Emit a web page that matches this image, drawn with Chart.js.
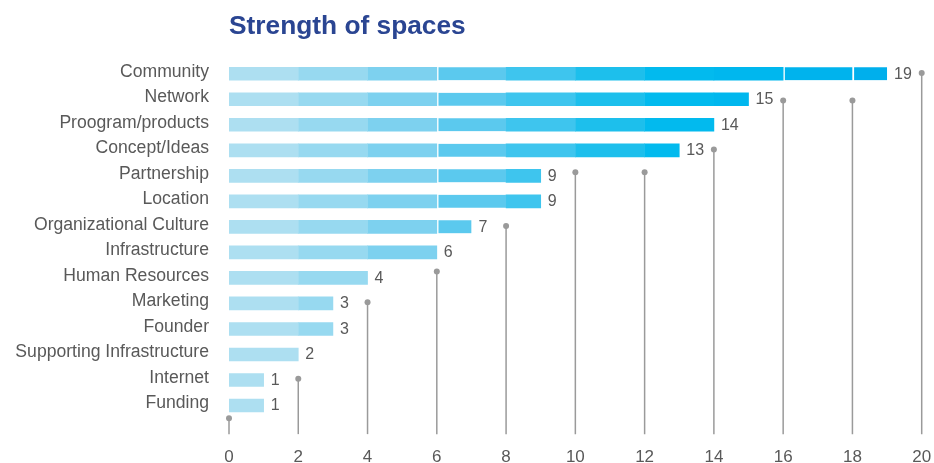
<!DOCTYPE html>
<html>
<head>
<meta charset="utf-8">
<script src="https://cdn.jsdelivr.net/npm/chart.js@4"></script>
<style>
  html, body { margin: 0; padding: 0; background: #fff; }
</style>
</head>
<body>
<canvas id="c" width="934" height="463"></canvas>
<script>
// Reasons given for the strength of a space, with number of mentions
const categories = [
  'Community', 'Network', 'Proogram/products', 'Concept/Ideas', 'Partnership',
  'Location', 'Organizational Culture', 'Infrastructure', 'Human Resources',
  'Marketing', 'Founder', 'Supporting Infrastructure', 'Internet', 'Funding'
];
const counts = [19, 15, 14, 13, 9, 9, 7, 6, 4, 3, 3, 2, 1, 1];

// x-axis ticks, and how far up (in category positions) each tick's stem reaches
const axisTicks = [0, 2, 4, 6, 8, 10, 12, 14, 16, 18, 20];
const stemTops = [13.5, 11.95, 8.95, 7.75, 5.97, 3.86, 3.86, 2.97, 1.05, 1.05, -0.03];
const stemBase = 14.12;

// each bar is shaded in bands of two units, darker further right
const BAND = 2;
const bandColors = ['#ADDFF1', '#97D9F0', '#7DD1EF', '#5BC9EE', '#3EC5EE',
                    '#1DBFEC', '#02BAEE', '#00B7EE', '#00B3ED', '#00AFEC'];
const dividedBands = [3, 8, 9]; // bands that open with a thin white divider

const FONT = "'Liberation Sans', Arial, sans-serif";
const TEXT = '#595959';
const STEM = '#9A9A9A';

// part of each count that falls inside band k (null when the bar stops earlier)
const bandPart = (v, k) => (v > k * BAND ? Math.min(BAND, v - k * BAND) : null);

const datasets = bandColors.map((color, k) => ({
  label: 'band ' + k,
  data: counts.map(v => bandPart(v, k)),
  backgroundColor: color,
  borderColor: '#ffffff',
  borderWidth: dividedBands.includes(k) ? { left: 2, right: 0, top: 0, bottom: 0 } : 0,
  borderSkipped: false,
  barThickness: 13
}));

const overlay = {
  id: 'overlay',
  beforeDatasetsDraw(chart) {
    const { ctx, scales: { x, y } } = chart;
    ctx.save();
    ctx.strokeStyle = STEM;
    ctx.fillStyle = STEM;
    ctx.lineWidth = 1.5;
    axisTicks.forEach((t, i) => {
      const px = x.getPixelForValue(t);
      const top = y.getPixelForValue(stemTops[i]);
      const bottom = y.getPixelForValue(stemBase);
      ctx.beginPath();
      ctx.moveTo(px, bottom);
      ctx.lineTo(px, top);
      ctx.stroke();
      ctx.beginPath();
      ctx.arc(px, top, 3, 0, Math.PI * 2);
      ctx.fill();
    });
    ctx.restore();
  },
  afterDatasetsDraw(chart) {
    const { ctx, scales: { x, y } } = chart;
    ctx.save();
    ctx.font = '16px ' + FONT;
    ctx.fillStyle = TEXT;
    ctx.textAlign = 'left';
    ctx.textBaseline = 'middle';
    counts.forEach((v, i) => {
      ctx.fillText(String(v), x.getPixelForValue(v) + 7, y.getPixelForValue(i) + 0.5);
    });
    ctx.restore();
  }
};

new Chart(document.getElementById('c'), {
  type: 'bar',
  data: { labels: categories, datasets },
  plugins: [overlay],
  options: {
    indexAxis: 'y',
    responsive: false,
    animation: false,
    devicePixelRatio: 1,
    layout: { padding: { left: 0, right: 12.3, top: 0, bottom: 0 } },
    plugins: {
      legend: { display: false },
      tooltip: { enabled: false },
      title: {
        display: true,
        text: 'Strength of spaces',
        align: 'start',
        fullSize: false,
        color: '#2A4592',
        font: { family: FONT, size: 26.3, weight: 'bold' },
        padding: { top: 11.4, bottom: 18 }
      }
    },
    scales: {
      x: {
        stacked: true,
        min: 0,
        max: 20,
        afterBuildTicks: s => { s.ticks = axisTicks.map(v => ({ value: v })); },
        afterFit: s => { s.height = 44.7; s.paddingLeft = 0; s.paddingRight = 0; },
        ticks: { color: TEXT, font: { family: FONT, size: 17 }, padding: 28.5, autoSkip: false, maxRotation: 0 },
        grid: { display: false, drawTicks: false },
        border: { display: false }
      },
      y: {
        stacked: true,
        afterFit: s => { s.width = 229; s.paddingTop = 0; s.paddingBottom = 0; },
        ticks: { color: TEXT, font: { family: FONT, size: 17.6 }, padding: 20, labelOffset: -2, autoSkip: false },
        grid: { display: false, drawTicks: false },
        border: { display: false }
      }
    }
  }
});
</script>
</body>
</html>
